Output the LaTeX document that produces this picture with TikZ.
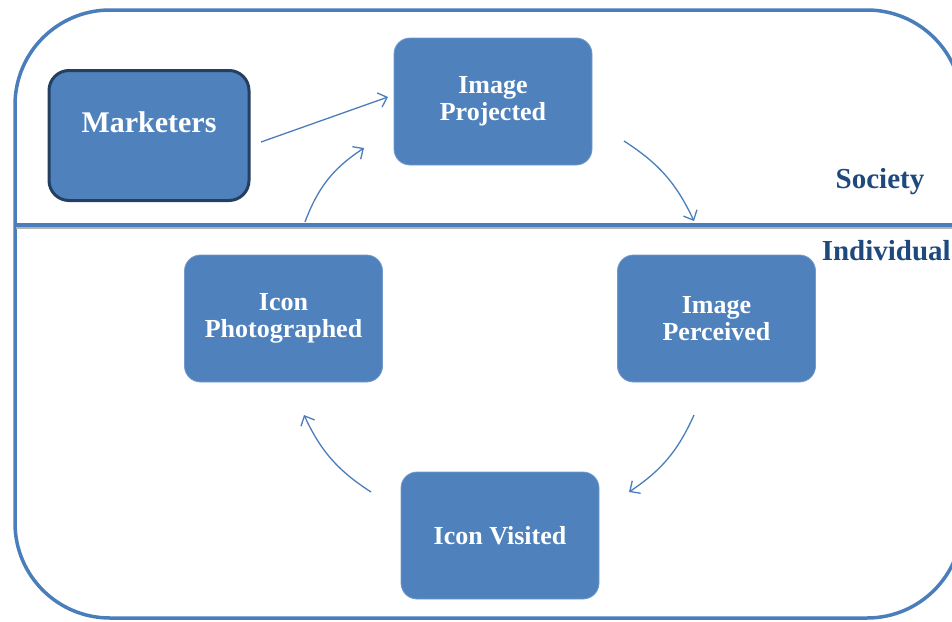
\documentclass[tikz,border=0pt]{standalone}
\usepackage{fontspec}
\setmainfont{Liberation Serif}
\usetikzlibrary{arrows.meta}
\definecolor{boxblue}{HTML}{4F81BD}
\definecolor{darkedge}{HTML}{243F60}
\definecolor{labelblue}{HTML}{1F497D}
\definecolor{linkblue}{HTML}{4A7EBB}
\tikzset{
  stagebox/.style={draw=boxblue!80!white, line width=0.8pt, fill=boxblue,
    rounded corners=16pt, minimum width=198pt, minimum height=127pt,
    inner sep=0pt, text=white, align=center,
    font=\bfseries\fontsize{26}{27}\selectfont},
  sourcebox/.style={draw=darkedge, line width=3pt, fill=boxblue,
    rounded corners=20pt, minimum width=200pt, minimum height=130pt,
    inner sep=0pt, text=white, align=center,
    font=\bfseries\fontsize{30}{31}\selectfont},
  zonelabel/.style={text=labelblue, inner sep=0pt,
    font=\bfseries\fontsize{29}{30}\selectfont},
  link/.style={draw=linkblue, line width=1.3pt,
    -{Straight Barb[length=8pt,width=15pt,line width=1.3pt]}},
  framebox/.style={draw=linkblue, line width=3.5pt, rounded corners=95pt}
}
\begin{document}
\begin{tikzpicture}[x=1pt,y=-1pt]
\useasboundingbox (0,0) rectangle (952,621);
\clip (0,0) rectangle (952,621);
% outer frame
\draw[framebox] (15,10) rectangle (962,618);
% divider with shadow
\draw[line width=2.6pt, black!30] (16,228) -- (952,228);
\draw[line width=3.5pt, linkblue] (15,225) -- (952,225);
% nodes
\node[sourcebox] (m) at (149,135.5) {\raisebox{27pt}{Marketers}};
\node[stagebox] (ip) at (493,101.5) {Image\\Projected};
\node[stagebox] (pe) at (716.5,318.5) {Image\\Perceived};
\node[stagebox] (iv) at (500,535.5) {Icon Visited};
\node[stagebox] (ph) at (283.5,318.5) {Icon\\Photographed};
\node[zonelabel, anchor=base] (soc) at (880,188) {Society};
\node[zonelabel, anchor=base east] (ind) at (951,260) {Individual};
% connector end points
\coordinate (a1s) at (261,142);
\coordinate (a1e) at (388,97);
\coordinate (a2s) at (305,222);
\coordinate (a2e) at (364,148);
\coordinate (a3s) at (624,141);
\coordinate (a3e) at (694,221);
\coordinate (a4s) at (694,415);
\coordinate (a4e) at (629,492);
\coordinate (a5s) at (371,492);
\coordinate (a5e) at (304,415);
% connectors
\draw[link] (a1s) -- (a1e);
\draw[link] (a2s) to[bend left=18] (a2e);
\draw[link] (a3s) to[bend left=16] (a3e);
\draw[link] (a4s) to[bend left=16] (a4e);
\draw[link] (a5s) to[bend left=16] (a5e);
\end{tikzpicture}
\end{document}
